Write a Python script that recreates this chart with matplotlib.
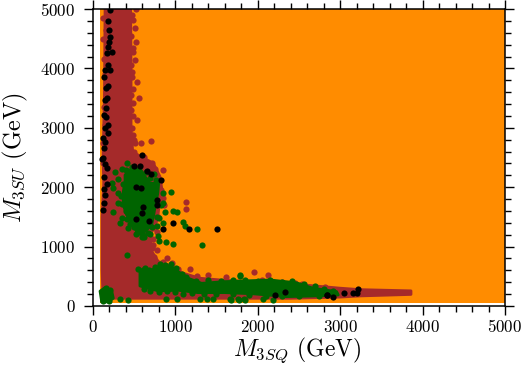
import matplotlib
matplotlib.use("Agg")
import matplotlib.pyplot as plt

plt.rcParams['font.family'] = ['cmr10', 'DejaVu Serif']
plt.rcParams['mathtext.fontset'] = 'cm'
plt.rcParams['axes.formatter.use_mathtext'] = True
plt.rcParams['axes.unicode_minus'] = False

# Parameter-space regions (outlines of the densely filled point clouds)
orange_x = [88, 5000, 5000, 88]
orange_y = [55, 55, 5030, 5030]

brown_x = [150, 460, 465, 465, 485, 513, 735, 816, 846, 806, 785, 705, 705, 795, 917, 1098, 1300,
           1543, 1866, 2595, 3000, 3250, 3860, 3860, 3250, 3000, 2400, 1500, 125, 114, 114, 134, 126, 142]
brown_y = [5030, 5030, 4000, 3000, 2600, 2571, 2403, 2178, 1898, 1700, 1449, 1224, 944, 748, 692, 551, 467,
           439, 411, 350, 300, 275, 255, 195, 170, 150, 130, 130, 130, 600, 1500, 2066, 2500, 3500]

green_blob_x = [450, 573, 634, 695, 800, 790, 760, 740, 715, 634, 533, 472, 412, 371, 371, 392, 392]
green_blob_y = [2290, 2318, 2178, 2066, 2066, 1898, 1701, 1533, 1365, 1253, 1253, 1421, 1533, 1701, 1926, 2094, 2206]

green_tail_x = [573, 715, 816, 937, 1038, 1159, 1321, 1604, 2150, 2473, 2675, 2958,
                2978, 2675, 2352, 1948, 1604, 1280, 1038, 796, 573]
green_tail_y = [578, 606, 674, 674, 578, 466, 382, 410, 438, 390, 298, 242,
                186, 168, 158, 205, 225, 225, 265, 255, 337]

green_corner_x = [89, 149, 230, 250, 190, 109]
green_corner_y = [250, 309, 259, 130, 70, 70]

# Individually visible points
brown_pts_x = [525, 492, 513, 525, 492, 513, 472, 533, 565, 492, 533, 492, 585, 706, 622, 513,
               849, 1128, 1128, 716, 675, 857, 735, 776, 1960, 2130, 2535, 2818,
               480, 470, 485, 460, 475, 490, 465, 480, 495, 505, 470, 485,
               130, 125, 140, 120, 135, 150, 145, 130, 165, 175,
               760, 820, 830, 860, 790, 740, 730, 720, 745, 775, 850, 900, 960, 1030, 1180, 1260, 1400, 1620, 2050, 2300, 2450]
brown_pts_y = [4996, 4816, 4676, 4452, 4283, 4143, 3947, 3778, 3498, 3414, 3133, 2881, 2741, 2786, 2516, 2741,
               2290, 1757, 1628, 2403, 2403, 1813, 1027, 1251, 578, 522, 370, 325,
               4900, 4550, 4350, 4050, 3850, 3650, 3300, 3000, 2800, 2600, 3550, 3200,
               4850, 4500, 4150, 2400, 3350, 3900, 3050, 2750, 4650, 4250,
               2300, 2100, 1950, 1700, 1500, 1320, 1120, 980, 820, 950, 740, 800, 720, 620, 620, 500, 520, 480, 430, 410, 390]

green_pts_x = [333, 250, 238, 270, 352, 412, 303, 303, 250, 311, 857, 950, 970, 1019, 857, 1099, 1120, 1262,
               796, 808, 889, 978, 1322, 776, 877, 412, 553, 331, 432, 888, 1026, 1300, 1381, 1454, 1672,
               1777, 1846, 1665, 1766, 1839, 2069, 2182, 1786, 1785, 600, 690, 850, 780, 430, 350, 520, 620,
               370, 345, 400, 420, 450, 500, 560, 610, 670, 720, 810, 830, 770, 745, 700, 650, 480, 400, 360, 440,
               610, 640, 680, 760, 820, 880, 950, 1010, 1080, 1130, 1250, 1400, 1550, 1700, 1850, 2000, 2150, 2300, 2420, 2560, 2700, 2800, 2920,
               620, 700, 800, 900, 1000, 1100, 1200, 1350, 1500, 1700, 1900, 2100, 2300, 2500, 2750,
               120, 160, 215, 130, 200]
green_pts_y = [1403, 1588, 2076, 2262, 2307, 2413, 2134, 1740, 1982, 1898, 1898, 1925, 1600, 1588, 1392, 1409, 1352, 1302,
               1179, 1100, 1072, 1049, 1027, 1347, 1588, 854, 618, 120, 100, 110, 118, 114, 114, 114, 102,
               102, 102, 113, 113, 113, 113, 102, 523, 512, 1160, 1210, 1740, 1500, 1320, 1480, 1210, 1170,
               2050, 1850, 1600, 1470, 1380, 1330, 1240, 1190, 1230, 1330, 1480, 1700, 2120, 2220, 2150, 2260, 2340, 2290, 1720, 2200,
               600, 640, 610, 660, 700, 690, 710, 640, 540, 480, 420, 440, 420, 430, 440, 420, 430, 400, 420, 370, 330, 280, 260,
               290, 260, 240, 250, 240, 210, 220, 210, 210, 200, 190, 170, 170, 160, 160,
               260, 300, 270, 90, 85]

black_x = [210, 190, 202, 210, 202, 190, 230, 169, 190, 210, 149, 137, 190, 161, 149, 169, 161, 137, 161, 190,
           149, 190, 129, 149, 137, 121, 117, 149, 170, 141, 170, 141, 149, 141, 129,
           1504, 1172, 970, 849, 687, 525, 602, 606, 784, 784, 582, 522, 832, 703, 655, 574, 501, 602,
           2211, 2333, 3052, 2911, 2838, 3222, 3202, 3160, 2842]
black_y = [4985, 4805, 4648, 4536, 4452, 4368, 4272, 4255, 4059, 3975, 3975, 3863, 3706, 3666, 3470, 3498, 3330, 3218, 3189, 3049,
           2993, 2909, 2825, 2769, 2657, 2488, 2470, 2391, 2319, 2177, 2054, 1965, 1869, 1729, 1617,
           1302, 1292, 1392, 1302, 1431, 1460, 1561, 1662, 1701, 1785, 1982, 1999, 2122, 2223, 2278, 2358, 2363, 2543,
           185, 241, 224, 157, 185, 286, 224, 214, 180]

x_ticks = [0, 1000, 2000, 3000, 4000, 5000]
y_ticks = [0, 1000, 2000, 3000, 4000, 5000]
minor_step_ticks = list(range(0, 5001, 200))

ORANGE, BROWN, GREEN = '#FF8C00', '#A52A2A', '#006400'
DOT = 20

fig = plt.figure(figsize=(5.25, 3.67), dpi=100)
ax = fig.add_axes([92.7 / 525, 61 / 367, 412.3 / 525, 297 / 367])

ax.fill(orange_x, orange_y, color=ORANGE, lw=0, zorder=1)
ax.fill(brown_x, brown_y, facecolor=BROWN, edgecolor=BROWN, lw=2, joinstyle='round', zorder=2)
ax.scatter(brown_pts_x, brown_pts_y, s=DOT, color=BROWN, lw=0, zorder=3)
ax.fill(green_blob_x, green_blob_y, facecolor=GREEN, edgecolor=GREEN, lw=2, joinstyle='round', zorder=4)
ax.fill(green_tail_x, green_tail_y, facecolor=GREEN, edgecolor=GREEN, lw=2, joinstyle='round', zorder=4)
ax.fill(green_corner_x, green_corner_y, facecolor=GREEN, edgecolor=GREEN, lw=2, joinstyle='round', zorder=4)
ax.scatter(green_pts_x, green_pts_y, s=DOT, color=GREEN, lw=0, zorder=5)
ax.scatter(black_x, black_y, s=DOT, color='black', lw=0, zorder=6)

ax.set_xlim(0, 5000)
ax.set_ylim(0, 5000)
ax.set_xticks(x_ticks)
ax.set_yticks(y_ticks)
ax.set_xticks(minor_step_ticks, minor=True)
ax.set_yticks(minor_step_ticks, minor=True)
ax.tick_params(which='major', direction='out', length=6.5, width=1.0, top=True, right=True,
               labelsize=12.2)
ax.tick_params(axis='x', which='major', pad=2.5)
ax.tick_params(axis='y', which='major', pad=6)
ax.tick_params(which='minor', direction='out', length=4, width=1.0, top=True, right=True)
for s in ax.spines.values():
    s.set_linewidth(1.1)
    s.set_zorder(10)

ax.set_xlabel(r'$M_{3SQ}$ (GeV)', fontsize=17)
ax.xaxis.set_label_coords(0.497, -0.1, transform=ax.transAxes)
ax.set_ylabel(r'$M_{3SU}$ (GeV)', fontsize=17.5, labelpad=7)

fig.savefig('out.png', dpi=100)
